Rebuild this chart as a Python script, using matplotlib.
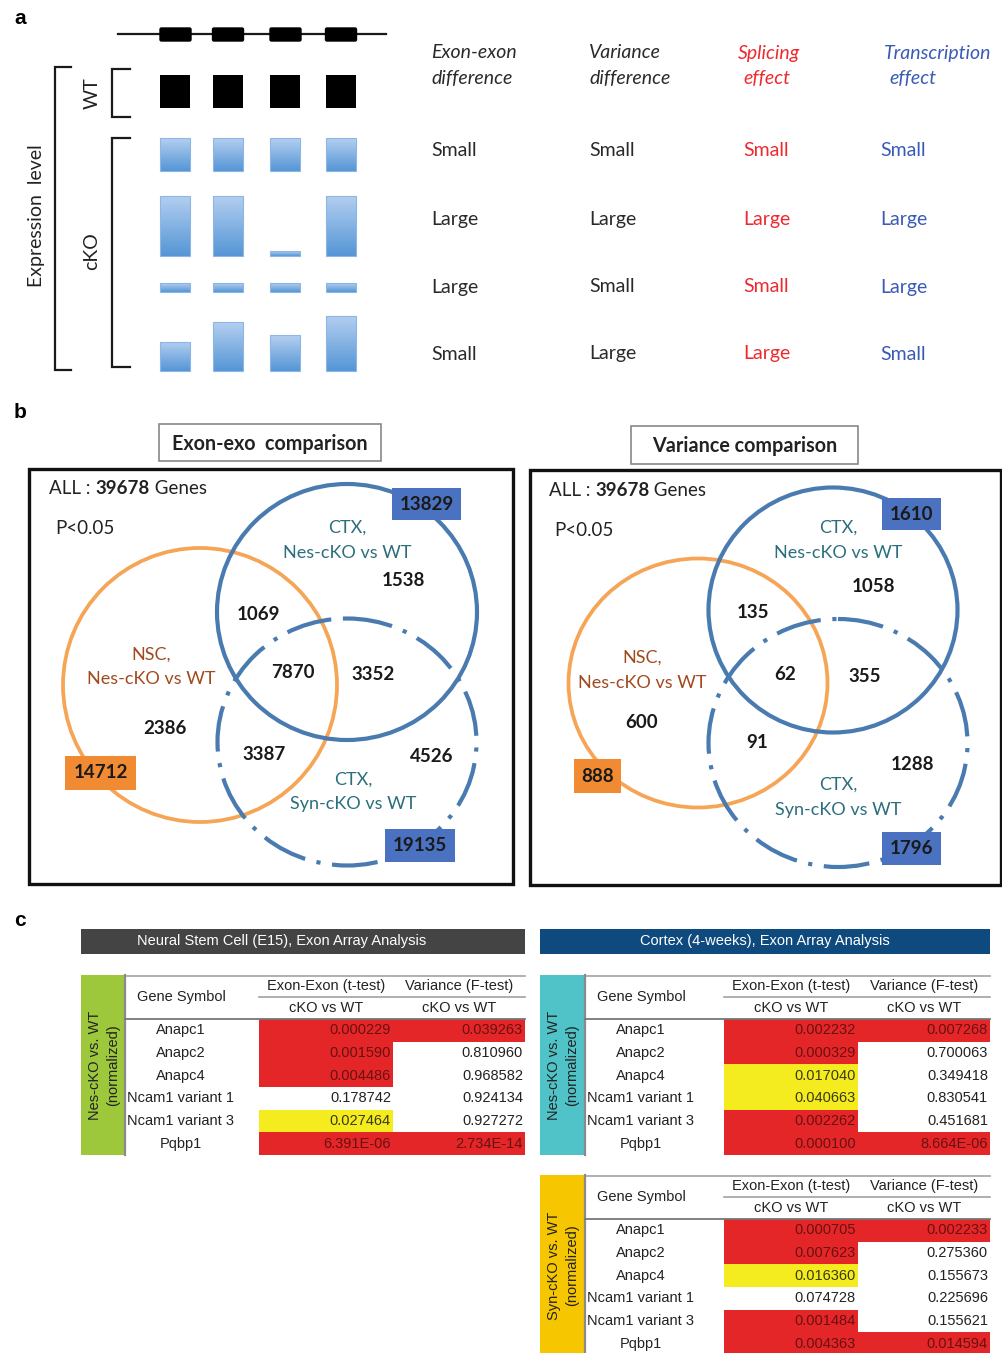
import matplotlib
matplotlib.use('Agg')
import matplotlib.pyplot as plt
import numpy as np
from matplotlib.patches import Rectangle, Ellipse, FancyBboxPatch
from matplotlib.colors import LinearSegmentedColormap

# ------------------------------------------------------------------ data
# panel a : schematic expression levels (WT = 1)
wt_levels = [1.0, 1.0, 1.0, 1.0]
cko_row1 = [1.0, 1.0, 1.0, 1.0]
cko_row2 = [1.82, 1.82, 0.15, 1.82]
cko_row3 = [0.27, 0.27, 0.27, 0.27]
cko_row4 = [0.88, 1.48, 1.09, 1.67]
a_headers = [("Exon-exon", "difference"), ("Variance", "difference"),
             ("Splicing", "effect"), ("Transcription", "effect")]
exon_diff = ["Small", "Large", "Large", "Small"]
var_diff = ["Small", "Large", "Small", "Large"]
splicing_eff = ["Small", "Large", "Small", "Large"]
transcription_eff = ["Small", "Large", "Large", "Small"]

# panel b : Venn diagrams
venn_titles = ["Exon-exo  comparison", "Variance comparison"]
total_genes = 39678
set_labels = [("NSC,", "Nes-cKO vs WT"), ("CTX,", "Nes-cKO vs WT"), ("CTX,", "Syn-cKO vs WT")]
# order: NSC only, CTX-Nes only, CTX-Syn only, NSC&Nes, NSC&Syn, Nes&Syn, all three
exon_regions = [2386, 1538, 4526, 1069, 3387, 3352, 7870]
exon_totals = [14712, 13829, 19135]
var_regions = [600, 1058, 1288, 135, 91, 355, 62]
var_totals = [888, 1610, 1796]

# panel c : tables
genes = ["Anapc1", "Anapc2", "Anapc4", "Ncam1 variant 1", "Ncam1 variant 3", "Pqbp1"]
nsc_exon = ["0.000229", "0.001590", "0.004486", "0.178742", "0.027464", "6.391E-06"]
nsc_var = ["0.039263", "0.810960", "0.968582", "0.924134", "0.927272", "2.734E-14"]
ctxnes_exon = ["0.002232", "0.000329", "0.017040", "0.040663", "0.002262", "0.000100"]
ctxnes_var = ["0.007268", "0.700063", "0.349418", "0.830541", "0.451681", "8.664E-06"]
ctxsyn_exon = ["0.000705", "0.007623", "0.016360", "0.074728", "0.001484", "0.004363"]
ctxsyn_var = ["0.002233", "0.275360", "0.155673", "0.225696", "0.155621", "0.014594"]
table_titles = ["Neural Stem Cell (E15), Exon Array Analysis", "Cortex (4-weeks), Exon Array Analysis"]

# ------------------------------------------------------------------ setup
SANS = ["Lato", "DejaVu Sans"]
ARIAL = ["Liberation Sans", "DejaVu Sans"]
fig = plt.figure(figsize=(10.03, 13.53), dpi=100)
ax = fig.add_axes([0, 0, 1, 1])
ax.set_xlim(0, 1003)
ax.set_ylim(1353, 0)
ax.axis('off')
renderer = fig.canvas.get_renderer()

def T(x, y, s, size=13, ha='center', va='center', family=SANS, **kw):
    return ax.text(x, y, s, fontsize=size, ha=ha, va=va, family=family, **kw)

# panel letters
for lx, ly, l in [(20, 18, 'a'), (20, 413, 'b'), (20, 920, 'c')]:
    T(lx, ly, l, size=15, family=ARIAL, fontweight='bold')

# ------------------------------------------------------------------ panel a
col_x = [175.5, 228, 285.5, 341]
bw = 30
unit = 33
dark = '#1a1a1a'
# gene model
ax.plot([118, 386], [34, 34], color=dark, lw=1.6, zorder=1)
for cx in col_x:
    ax.add_patch(FancyBboxPatch((cx - 14, 29.5), 28, 10, boxstyle="round,pad=1.5",
                                fc='black', ec='black', zorder=2))
# brackets
def bracket(x, y0, y1, tick):
    ax.plot([x + tick, x, x, x + tick], [y0, y0, y1, y1], color=dark, lw=1.6, solid_joinstyle='miter')
bracket(55, 67, 370, 16)
bracket(112, 69, 117, 18)
bracket(112, 138, 367, 18)
T(37, 216, "Expression  level", size=14, rotation=90, color='#222')
T(92, 93, "WT", size=14, rotation=90, color='#222')
T(92, 251, "cKO", size=14, rotation=90, color='#222')

# WT bars
ax.bar(col_x, [-v * unit for v in wt_levels], bottom=108, width=bw, color='black', zorder=2)
cmap = LinearSegmentedColormap.from_list('bl', ['#b4cff0', '#5596d6'])
grad = np.linspace(0, 1, 64).reshape(-1, 1)
for base, vals in [(171, cko_row1), (256, cko_row2), (292, cko_row3), (371, cko_row4)]:
    bars = ax.bar(col_x, [-v * unit for v in vals], bottom=base, width=bw,
                  color='none', edgecolor='#8db6e4', lw=0.8, zorder=3)
    for b in bars:
        x0, y0, w, h = b.get_x(), b.get_y(), b.get_width(), b.get_height()
        im = ax.imshow(grad, extent=[x0, x0 + w, y0, y0 + h], cmap=cmap,
                       aspect='auto', origin='upper', zorder=2, interpolation='bilinear')
        im.set_clip_path(b)

# table of effects
hdr_x = [431, 589, 738, 884]
hdr_x2 = [431, 589, 743, 889]
hdr_col = ['#2a2a2a', '#2a2a2a', '#ee2a2f', '#3a5bb5']
for (l1, l2), x1, x2, c in zip(a_headers, hdr_x, hdr_x2, hdr_col):
    T(x1, 53, l1, size=14, ha='left', style='italic', color=c)
    T(x2, 78, l2, size=14, ha='left', style='italic', color=c)
row_y = [150, 219, 287, 354]
val_x = [431, 589, 743, 880]
for vals, x, c in zip([exon_diff, var_diff, splicing_eff, transcription_eff], val_x, hdr_col):
    for v, y in zip(vals, row_y):
        T(x, y, v, size=14, ha='left', color=c)

# ------------------------------------------------------------------ panel b
orange_line = '#f5a555'
blue_line = '#4a7bb0'
box_blue = '#4b72c0'
box_orange = '#f08a33'
lab_nsc = '#a2491e'
lab_ctx = '#2b6e7c'

layouts = [
    dict(box=(29, 469, 513, 884), title=(159, 424, 381, 461), allxy=(49, 489), pxy=(55, 528),
         ell=[(200, 685, 274, 274), (347, 612, 260, 256), (347, 742, 259, 247)],
         labs=[(151, 667), (347, 540), (353, 792)],
         regs=[(165, 729), (403, 581), (432, 757), (258, 614), (264, 754), (373, 674), (293, 672)],
         tboxes=[(65, 756, 136, 790), (392, 488, 461, 520), (385, 829, 455, 862)]),
    dict(box=(530, 470, 1001, 885), title=(631, 426, 858, 464), allxy=(549, 491), pxy=(554, 530),
         ell=[(698, 683, 259, 249), (833, 610, 249, 245), (838, 743, 259, 248)],
         labs=[(642, 670), (838, 540), (838, 797)],
         regs=[(642, 722), (873, 586), (912, 765), (753, 612), (757, 743), (865, 676), (785, 674)],
         tboxes=[(574, 759, 621, 793), (882, 498, 941, 530), (882, 832, 941, 865)]),
]
for L, title, regions, totals in zip(layouts, venn_titles, [exon_regions, var_regions],
                                     [exon_totals, var_totals]):
    x0, y0, x1, y1 = L['box']
    ax.add_patch(Rectangle((x0, y0), x1 - x0, y1 - y0, fc='none', ec='#111', lw=2.4, zorder=5))
    tx0, ty0, tx1, ty1 = L['title']
    ax.add_patch(Rectangle((tx0, ty0), tx1 - tx0, ty1 - ty0, fc='white', ec='#888', lw=1.2, zorder=5))
    T((tx0 + tx1) / 2, (ty0 + ty1) / 2 + 1, title, size=14.2, fontweight='bold', color='#222', zorder=6)
    # ALL : 39678 Genes
    x, y = L['allxy']
    for s, wgt in [("ALL : ", 'normal'), (f"{total_genes}", 'bold'), (" Genes", 'normal')]:
        t = T(x, y, s, size=13.5, ha='left', fontweight=wgt, color='#222')
        bb = t.get_window_extent(renderer=renderer)
        x = ax.transData.inverted().transform((bb.x1, bb.y0))[0]
    T(L['pxy'][0], L['pxy'][1], "P<0.05", size=13.5, ha='left', color='#222')
    # circles
    styles = [dict(ec=orange_line, lw=2.7, ls='-'),
              dict(ec=blue_line, lw=3.0, ls='-'),
              dict(ec=blue_line, lw=3.0, ls=(0, (11, 2.8, 1.0, 2.8)))]
    for (cx, cy, w, h), st in zip(L['ell'], styles):
        ax.add_patch(Ellipse((cx, cy), w, h, fc='none', zorder=3, **st))
    # set labels
    for (l1, l2), (lx, ly), c in zip(set_labels, L['labs'], [lab_nsc, lab_ctx, lab_ctx]):
        T(lx, ly - 12.5, l1, size=13, color=c)
        T(lx, ly + 12.5, l2, size=13, color=c)
    # region counts
    for v, (rx, ry) in zip(regions, L['regs']):
        T(rx, ry, f"{v}", size=13.5, fontweight='bold', color='#1a1a1a', zorder=6)
    # total boxes
    for v, (bx0, by0, bx1, by1), fc in zip(totals, L['tboxes'], [box_orange, box_blue, box_blue]):
        ax.add_patch(Rectangle((bx0, by0), bx1 - bx0, by1 - by0, fc=fc, ec='none', zorder=6))
        T((bx0 + bx1) / 2, (by0 + by1) / 2, f"{v}", size=13.5, fontweight='bold', color='#1a1a1a', zorder=7)

# ------------------------------------------------------------------ panel c
for (hx0, hx1, hc, tx), title in zip([(81, 525, '#444444', 282), (540, 990, '#0f4a7e', 765)], table_titles):
    ax.add_patch(Rectangle((hx0, 929), hx1 - hx0, 25, fc=hc, ec='none'))
    T(tx, 941.5, title, size=10.5, family=ARIAL, color='white')

RED = '#e42628'
YEL = '#f4ec1f'

def cell_color(val, kind):
    p = float(val)
    if kind == 'exon':
        return RED if p < 0.01 else (YEL if p < 0.05 else None)
    return RED if p < 0.05 else None

def draw_table(xs, ytop, side_color, side_lab, exon_vals, var_vals):
    sl, sr, c1, cm, c2 = xs
    rh = 22.67
    hb = ytop + 43
    ybot = hb + rh * len(genes)
    ax.add_patch(Rectangle((sl, ytop - 1), sr - sl, ybot - ytop + 1, fc=side_color, ec='none', zorder=1))
    ax.plot([sr, sr], [ytop - 1, ybot], color='#8a8a8a', lw=1.6, zorder=4)
    cy = (ytop + ybot) / 2
    T(sl + 14.5, cy, side_lab[0], size=10.5, family=ARIAL, rotation=90, color='#222')
    T(sl + 32, cy, side_lab[1], size=10.5, family=ARIAL, rotation=90, color='#222')
    ax.plot([sr, c2], [ytop, ytop], color='#aaaaaa', lw=1.3)
    ax.plot([c1, c2], [ytop + 21, ytop + 21], color='#999999', lw=1.1)
    ax.plot([sr, c2], [hb, hb], color='#777777', lw=1.3, zorder=4)
    gx = sr + 56
    T(gx, ytop + 21, "Gene Symbol", size=10.5, family=ARIAL, color='#222')
    T((c1 + cm) / 2, ytop + 10, "Exon-Exon (t-test)", size=10.5, family=ARIAL, color='#222')
    T((cm + c2) / 2, ytop + 10, "Variance (F-test)", size=10.5, family=ARIAL, color='#222')
    T((c1 + cm) / 2, ytop + 32, "cKO vs WT", size=10.5, family=ARIAL, color='#222')
    T((cm + c2) / 2, ytop + 32, "cKO vs WT", size=10.5, family=ARIAL, color='#222')
    for i, g in enumerate(genes):
        ry0 = hb + i * rh
        ryc = ry0 + rh / 2
        T(gx, ryc, g, size=10.5, family=ARIAL, color='#222')
        for val, (l, r), kind in [(exon_vals[i], (c1, cm), 'exon'), (var_vals[i], (cm, c2), 'var')]:
            col = cell_color(val, kind)
            tc = '#222'
            if col is not None:
                ax.add_patch(Rectangle((l, ry0), r - l, rh, fc=col, ec='none', zorder=1))
                tc = '#6a1010' if col == RED else '#3a3a10'
            T(r - 2, ryc, val, size=10.5, family=ARIAL, ha='right', color=tc, zorder=3)

draw_table((81, 125, 259, 393, 525), 976, '#9dc83b', ("Nes-cKO vs. WT", "(normalized)"), nsc_exon, nsc_var)
draw_table((540, 585, 724, 858, 990), 976, '#4fc3c7', ("Nes-cKO vs. WT", "(normalized)"), ctxnes_exon, ctxnes_var)
draw_table((540, 585, 724, 858, 990), 1176, '#f6c700', ("Syn-cKO vs. WT", "(normalized)"), ctxsyn_exon, ctxsyn_var)

ax.set_aspect('auto')
ax.set_xlim(0, 1003)
ax.set_ylim(1353, 0)
fig.savefig('out.png', dpi=100, facecolor='white')
